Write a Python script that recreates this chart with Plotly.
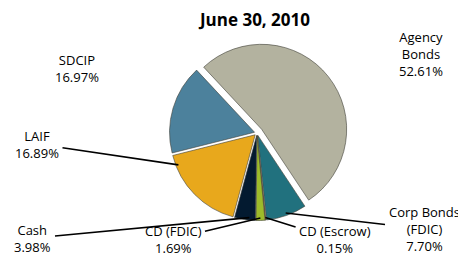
import math
import plotly.graph_objects as go

categories = ["Agency Bonds", "Corp Bonds (FDIC)", "CD (Escrow)", "CD (FDIC)", "Cash", "LAIF", "SDCIP"]
display_labels = ["Agency<br>Bonds", "Corp Bonds<br>(FDIC)", "CD (Escrow)", "CD (FDIC)", "Cash", "LAIF", "SDCIP"]
values = [52.61, 7.70, 0.15, 1.69, 3.98, 16.89, 16.97]
colors = ["#B3B29F", "#21717E", "#C0501E", "#9DBB2A", "#031A30", "#E8A81C", "#4C819C"]
pulls = [0.07, 0.03, 0.03, 0.03, 0.03, 0.03, 0.03]

# label placement (screen pixels from top-left), leader on/off and where on the slice the leader lands
label_pos = [(421, 54), (424, 229), (335, 239), (173, 239), (33, 238), (37, 144), (77, 68)]
leaders = [False, True, True, True, True, True, False]
leader_frac = [0.5, 0.5, 0.5, 0.5, 0.3, 0.88, 0.5]   # position within the slice's angular span

OFF = 8                 # page offset of the plot div inside the browser window
W, H = 466 - OFF, 258 - OFF
ROT = -43
CX, CY, R = 257 - OFF, 133 - OFF, 85
max_pull = max(pulls)
half = R * (1 + max_pull)

texts = [f"{lab}<br>{v:.2f}%" for lab, v in zip(display_labels, values)]

fig = go.Figure(go.Pie(
    labels=categories,
    values=values,
    textinfo="none",
    textposition="none",
    sort=False,
    direction="clockwise",
    rotation=ROT,
    pull=pulls,
    marker=dict(colors=colors, line=dict(color="#3f3f38", width=0.6)),
    domain=dict(x=[(CX - half) / W, (CX + half) / W],
                y=[(H - CY - half) / H, (H - CY + half) / H]),
    showlegend=False,
    hoverinfo="label+value",
))

total = sum(values)
cum = 0.0
annotations = []
font = dict(family="Open Sans", size=13, color="#000000")
for i, v in enumerate(values):
    ang = math.radians(ROT + 360.0 * (cum + v * leader_frac[i]) / total)
    mid = math.radians(ROT + 360.0 * (cum + v / 2.0) / total)
    cum += v
    # slice is shifted along its mid-angle by the pull
    px = CX + R * pulls[i] * math.sin(mid) + R * 0.97 * math.sin(ang)
    py = CY - R * pulls[i] * math.cos(mid) - R * 0.97 * math.cos(ang)
    lx, ly = label_pos[i][0] - OFF, label_pos[i][1] - OFF
    if leaders[i]:
        annotations.append(dict(
            x=px / W, y=1 - py / H, xref="paper", yref="paper",
            ax=lx - px, ay=ly - py, axref="pixel", ayref="pixel",
            text=texts[i], showarrow=True, arrowhead=0, arrowwidth=1.6,
            arrowcolor="#000000", standoff=0, startstandoff=2,
            font=font, align="center",
        ))
    else:
        annotations.append(dict(
            x=lx / W, y=1 - ly / H, xref="paper", yref="paper",
            xanchor="center", yanchor="middle",
            text=texts[i], showarrow=False,
            font=font, align="center",
        ))

fig.update_layout(
    width=W, height=H,
    margin=dict(l=0, r=0, t=0, b=0),
    paper_bgcolor="white",
    plot_bgcolor="white",
    annotations=annotations,
    title=dict(text="<b>June 30, 2010</b>", x=(255 - OFF) / W, xanchor="center",
               y=1 - (20 - OFF) / H, yanchor="middle",
               font=dict(family="Open Sans", size=17, color="#000000")),
)

fig.write_html("out.html")
